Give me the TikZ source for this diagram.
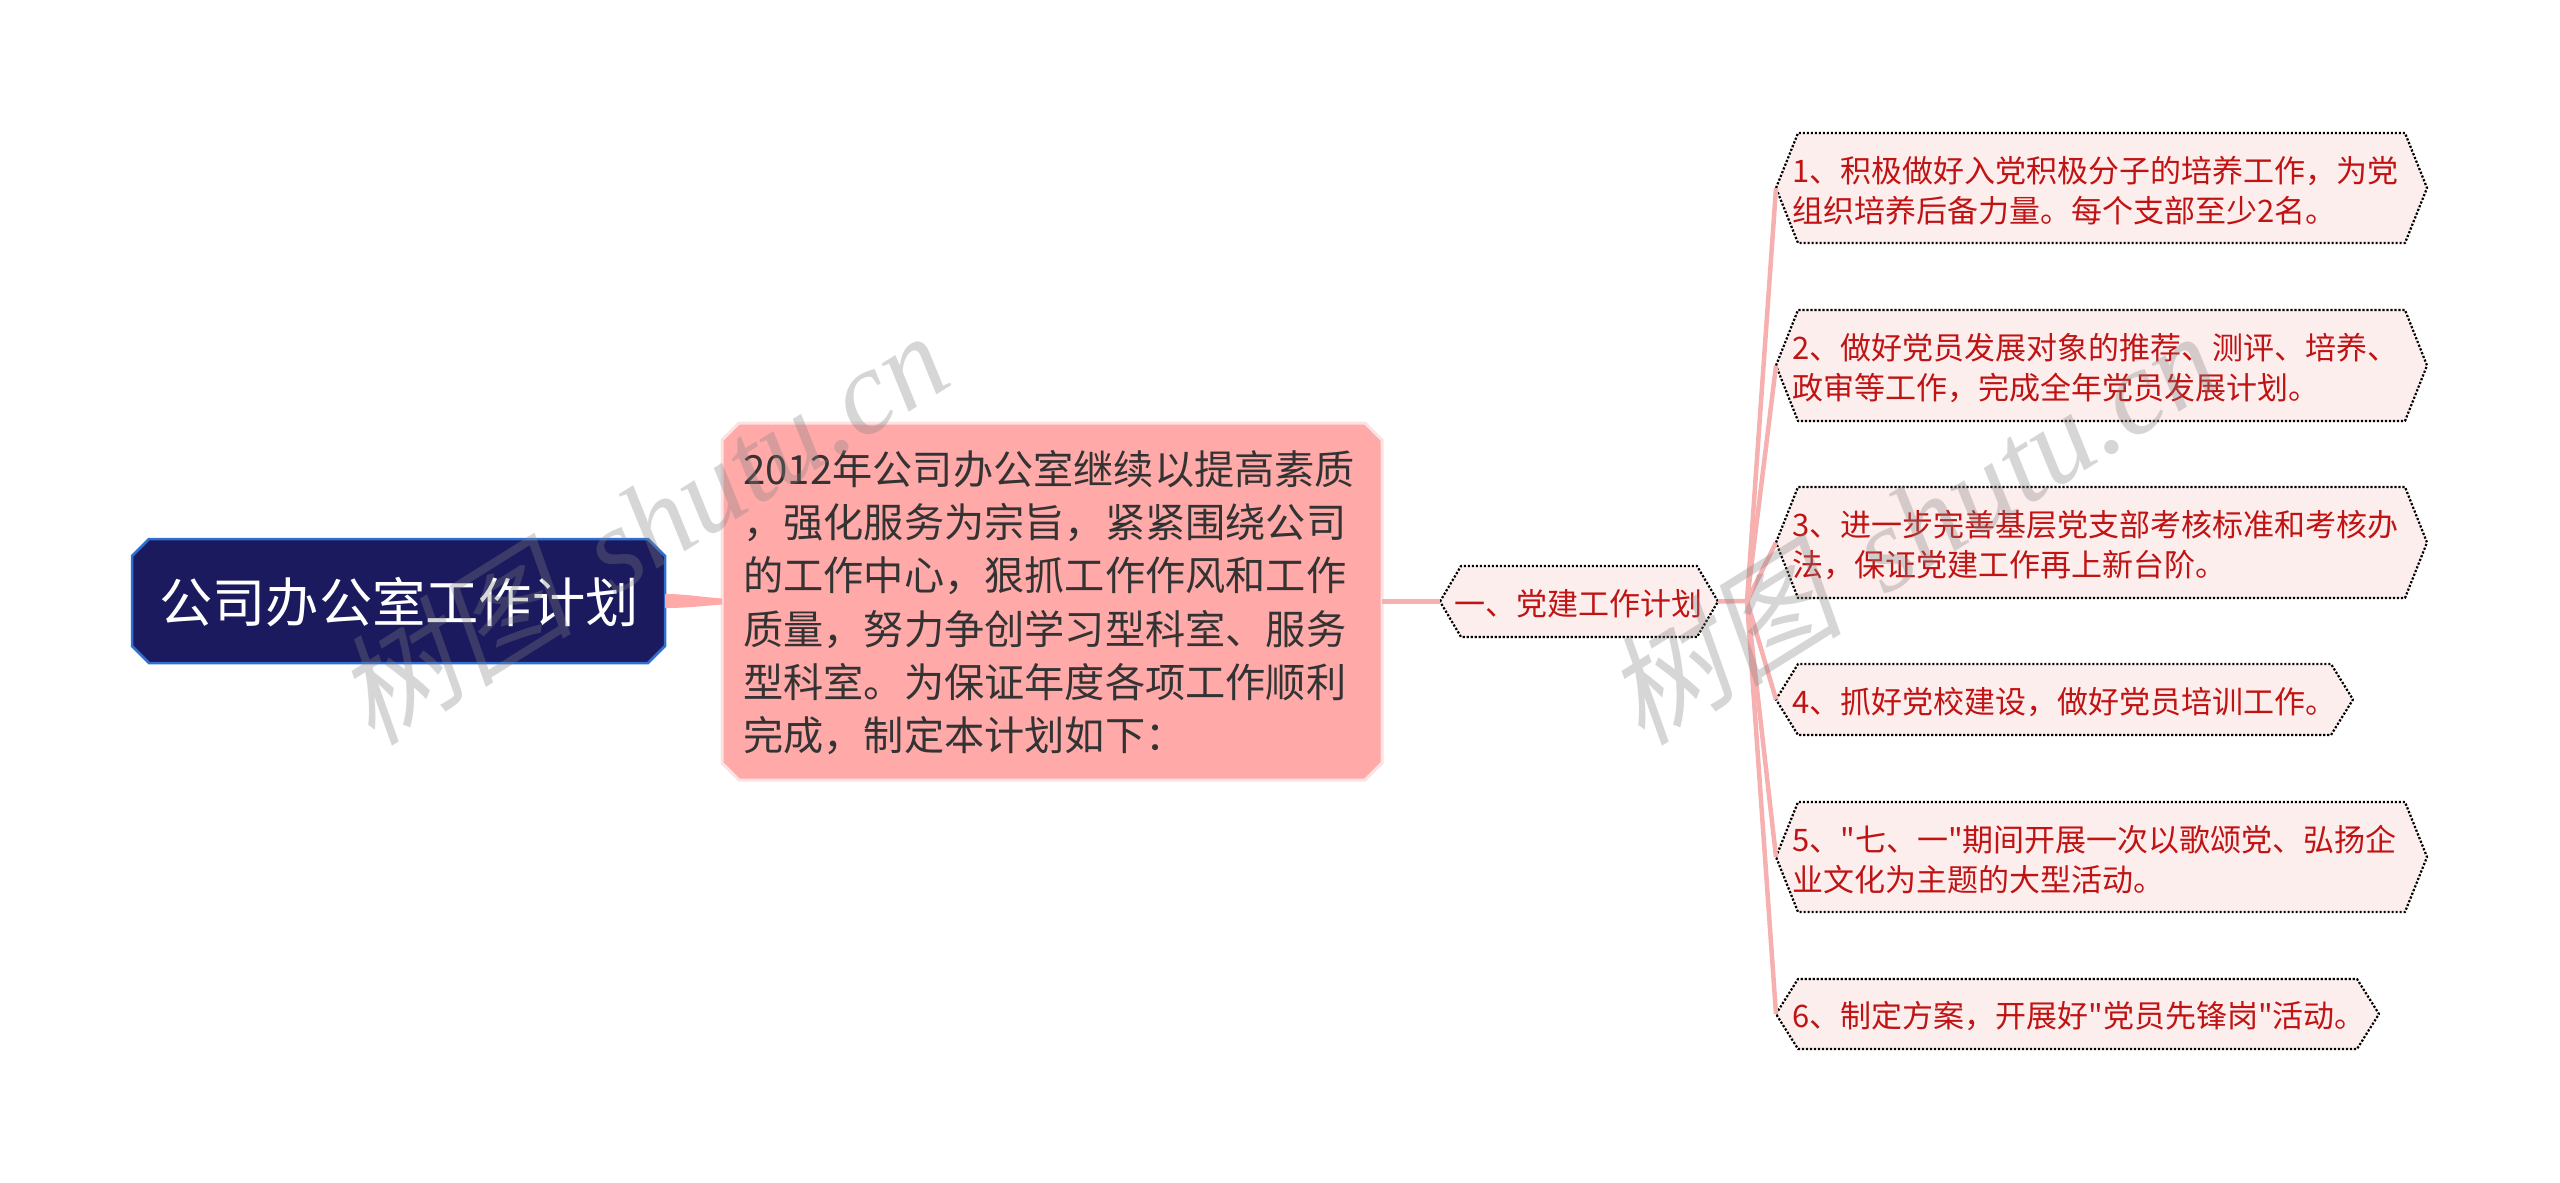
\documentclass[tikz,border=0pt]{standalone}
\usepackage{fontspec}
\setmainfont{Noto Sans CJK SC}
\newfontfamily\qf{Noto Sans CJK SC}
\newfontfamily\wmcjk[FakeSlant=0.22]{Noto Sans CJK SC}
\newfontfamily\wmlat{Liberation Serif}[ItalicFont=* Italic]
\definecolor{navy}{HTML}{1B1A5E}
\definecolor{navyedge}{HTML}{2F6FD0}
\definecolor{rosefill}{HTML}{FFA9A9}
\definecolor{roseedge}{HTML}{FBE3E3}
\definecolor{link}{HTML}{F6B0B0}
\definecolor{leaffill}{HTML}{FDEEEE}
\definecolor{leafink}{HTML}{C01414}
\definecolor{bodyink}{HTML}{333333}
\newcommand\dq{{\qf"}}
\tikzset{
  hexbox/.style={inner sep=0pt,outer sep=0pt},
  hexline/.style={fill=leaffill,draw=black,line width=2.2pt,dash pattern=on 2.2pt off 1.8pt,line join=round},
  leaftext/.style={inner sep=0pt,anchor=west,align=left,text=leafink,font=\fontsize{31}{40.5}\selectfont},
  rootline/.style={fill=navy,draw=navyedge,line width=2.5pt,line join=miter},
  roottext/.style={inner sep=0pt,text=white,font=\fontsize{53.3}{60}\selectfont},
  bodyline/.style={fill=rosefill,draw=roseedge,line width=3pt,line join=miter},
  bodytext/.style={inner sep=0pt,anchor=west,align=left,text=bodyink,font=\fontsize{40.2}{53.3}\selectfont},
  wire/.style={draw=link,line width=4.5pt},
  wiretop/.style={draw=link,line width=4.5pt},
  watermark/.style={text=gray,opacity=0.32,rotate=32,inner sep=0pt}
}
% name, left, right, top, bottom, inset, text
\newcommand\hexnode[7]{%
  \node[hexbox,minimum width={(#3-#2)*1pt},minimum height={(#5-#4)*1pt}] (#1) at ({(#2+#3)/2},{(#4+#5)/2}) {};
  \path[hexline] (#1.west) -- ([xshift=#6pt]#1.north west) -- ([xshift=-#6pt]#1.north east) -- (#1.east)
     -- ([xshift=-#6pt]#1.south east) -- ([xshift=#6pt]#1.south west) -- cycle;
  \node[leaftext] (#1-t) at ([xshift=16pt,yshift=-2.5pt]#1.west) {#7};
}
% name, style, left, right, top, bottom, cut
\newcommand\octnode[7]{%
  \node[hexbox,minimum width={(#4-#3)*1pt},minimum height={(#6-#5)*1pt}] (#1) at ({(#3+#4)/2},{(#5+#6)/2}) {};
  \path[#2] ([xshift=#7pt]#1.north west) -- ([xshift=-#7pt]#1.north east) -- ([yshift=-#7pt]#1.north east)
     -- ([yshift=#7pt]#1.south east) -- ([xshift=-#7pt]#1.south east) -- ([xshift=#7pt]#1.south west)
     -- ([yshift=#7pt]#1.south west) -- ([yshift=-#7pt]#1.north west) -- cycle;
}
\begin{document}
\begin{tikzpicture}[x=1pt,y=-1pt]
\useasboundingbox (0,0) rectangle (2560,1183);
% main nodes
\octnode{root}{rootline}{132}{665}{539}{663}{17}
\node[roottext] (roott) at (399,602) {公司办公室工作计划};
\octnode{body}{bodyline}{722}{1382}{423}{780}{17}
\node[bodytext] (bodyt) at ([xshift=21pt,yshift=-1pt]body.west) {2012年公司办公室继续以提高素质\\，强化服务为宗旨，紧紧围绕公司\\的工作中心，狠抓工作作风和工作\\质量，努力争创学习型科室、服务\\型科室。为保证年度各项工作顺利\\完成，制定本计划如下：};
% tapered link
\fill[rosefill] ([yshift=7pt]root.east) .. controls ([xshift=20pt,yshift=7pt]root.east) and ([xshift=-25pt,yshift=5pt]body.west) .. ([yshift=3pt]body.west)
  -- ([yshift=-3pt]body.west) .. controls ([xshift=-25pt,yshift=-5pt]body.west) and ([xshift=20pt,yshift=-7pt]root.east) .. ([yshift=-7pt]root.east) -- cycle;
\coordinate (j) at (1747,601);
\hexnode{one}{1440}{1718}{566}{637}{21}{\hspace{-2pt}一、党建工作计划}
\hexnode{l1}{1776}{2427}{133}{243}{22}{1、积极做好入党积极分子的培养工作，为党\\组织培养后备力量。每个支部至少2名。}
\hexnode{l2}{1776}{2427}{310}{421}{22}{2、做好党员发展对象的推荐、测评、培养、\\政审等工作，完成全年党员发展计划。}
\hexnode{l3}{1776}{2427}{487}{598}{22}{3、进一步完善基层党支部考核标准和考核办\\法，保证党建工作再上新台阶。}
\hexnode{l4}{1776}{2353}{664}{735}{22}{4、抓好党校建设，做好党员培训工作。}
\hexnode{l5}{1776}{2427}{802}{912}{22}{5、\dq 七、一\dq 期间开展一次以歌颂党、弘扬企\\业文化为主题的大型活动。}
\hexnode{l6}{1776}{2379}{979}{1049}{22}{6、制定方案，开展好\dq 党员先锋岗\dq 活动。}
% links
\draw[wire] (body.east) -- (one.west);
\draw[wire] (one.east) -- (j);
\foreach \n in {l1,l2,l3,l4,l5,l6} \draw[wiretop] (j) -- (\n.west);
% watermarks
\node[watermark] (wm1) at (640,526) {\fontsize{120}{120}\selectfont\wmcjk 树图\hspace{45pt}\wmlat\itshape shutu.cn};
\node[watermark] (wm2) at (1910,526) {\fontsize{120}{120}\selectfont\wmcjk 树图\hspace{45pt}\wmlat\itshape shutu.cn};
\end{tikzpicture}
\end{document}
